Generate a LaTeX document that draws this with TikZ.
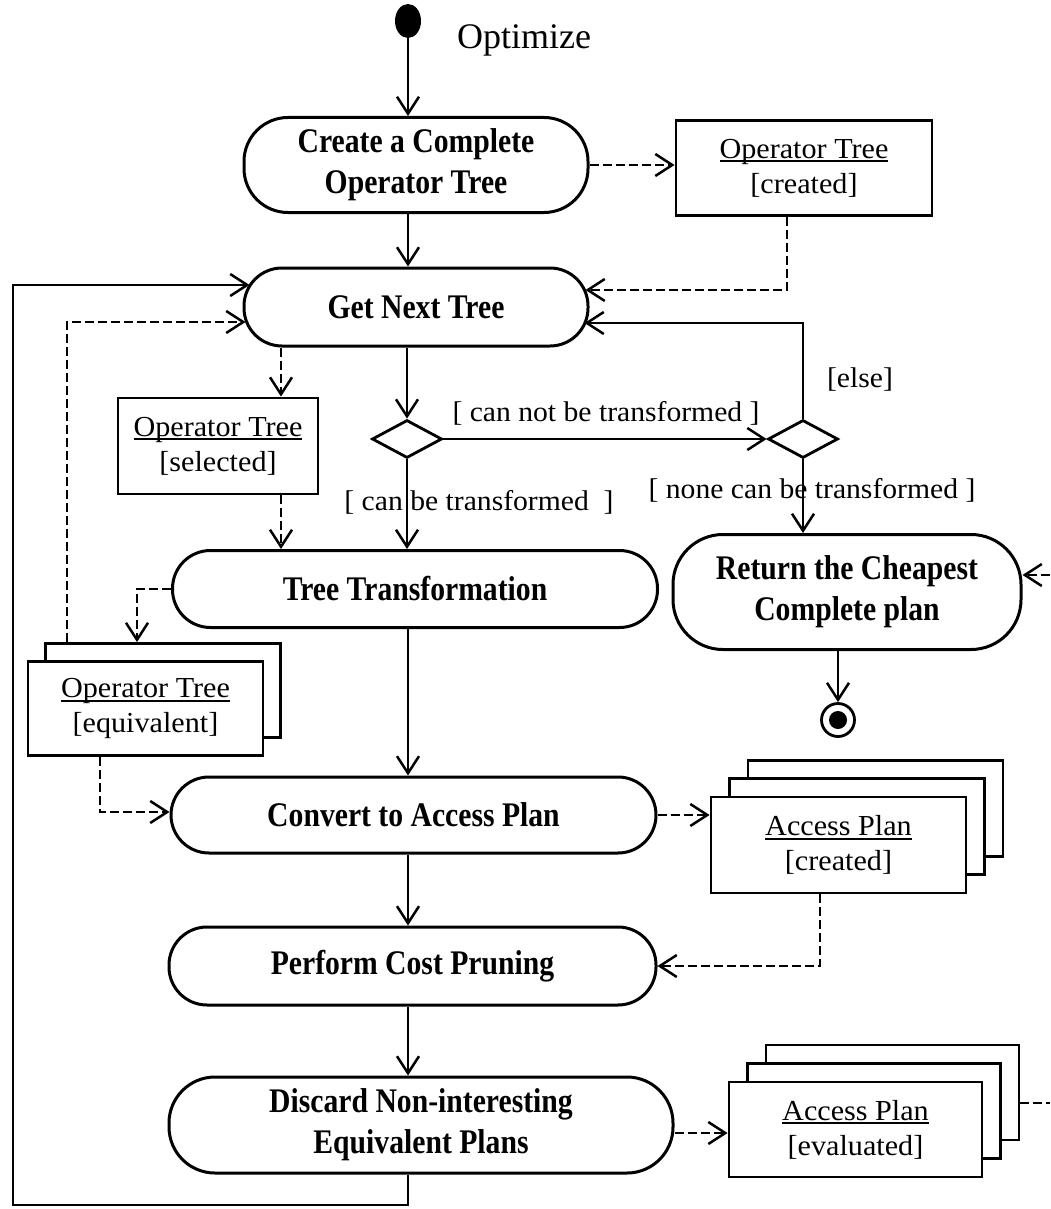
\documentclass[tikz,border=0pt]{standalone}
\usepackage{fontspec}
\setmainfont{Liberation Serif}
\newfontfamily\actfont[FakeStretch=0.86]{Liberation Serif}
\newfontfamily\lblfont[FakeStretch=1.04]{Liberation Serif}
\usetikzlibrary{arrows.meta,shapes.geometric}
% underlined object name with a heavier rule
\newcommand\objname[1]{\setbox0=\hbox{#1}\rlap{\rule[-4pt]{\wd0}{1.8pt}}\box0}
\begin{document}
\begin{tikzpicture}[x=1pt,y=-1pt,
  activity/.style={draw, line width=3pt, rounded corners=38pt, align=center,
    font=\actfont\bfseries\fontsize{34.5}{41}\selectfont, inner sep=0pt},
  objbox/.style={draw, fill=white, line width=2.8pt, align=center,
    font=\lblfont\fontsize{29}{35}\selectfont, inner sep=0pt},
  decision/.style={diamond, draw, line width=2.8pt, minimum width=70pt,
    minimum height=38pt, inner sep=0pt},
  guard/.style={font=\lblfont\fontsize{28.5}{32}\selectfont, inner sep=0pt},
  tip/.style={-{Straight Barb[length=17pt,width=22pt,line width=2.5pt]}},
  flow/.style={tip, line width=2.5pt},
  objline/.style={line width=2.5pt, dash pattern=on 9pt off 4pt},
  objflow/.style={objline, tip}
]
\fill[white] (0,0) rectangle (1050,1209);
\useasboundingbox (0,0) rectangle (1050,1209);

% initial and final states
\node[ellipse, fill, minimum width=26pt, minimum height=34pt, inner sep=0pt] (start) at (408,21) {};
\node[font=\fontsize{36}{40}\selectfont, inner sep=0pt] (title) at (524,40) {Optimize};

% activities
\node[activity, minimum width=344pt, minimum height=95pt, rounded corners=44pt] (create) at (416,165) {Create a Complete\\Operator Tree};
\node[activity, minimum width=344pt, minimum height=78pt] (next) at (416,307) {Get Next Tree};
\node[decision] (d1) at (407,439) {};
\node[decision] (d2) at (803,439) {};
\node[activity, minimum width=485pt, minimum height=77pt] (transform) at (415,589) {Tree Transformation};
\node[activity, minimum width=348pt, minimum height=115pt, rounded corners=50pt] (cheapest) at (847,592) {Return the Cheapest\\Complete plan};
\node[circle, draw, line width=2.8pt, minimum size=33pt, inner sep=0pt] (final) at (838,720) {};
\node[circle, fill, minimum size=18pt, inner sep=0pt] (finalDot) at (final) {};
\node[activity, minimum width=485pt, minimum height=76pt] (convert) at (413.5,815) {Convert to Access Plan};
\node[activity, minimum width=487pt, minimum height=78pt] (perform) at (412.5,966) {Perform Cost Pruning};
\node[activity, minimum width=504pt, minimum height=96pt, rounded corners=46pt] (discard) at (421,1125) {Discard Non-interesting\\Equivalent Plans};

% object flows
\node[objbox, minimum width=256pt, minimum height=95pt] (otCreated) at (804,168) {\objname{Operator Tree}\\{[created]}};
\node[objbox, minimum width=200pt, minimum height=96pt] (otSelected) at (218,446) {\objname{Operator Tree}\\{[selected]}};
\node[objbox, minimum width=235pt, minimum height=94pt] (otEquivB) at (163,690.5) {};
\node[objbox, minimum width=235pt, minimum height=94pt] (otEquiv) at (145.5,708.5) {\objname{Operator Tree}\\{[equivalent]}};
\node[objbox, minimum width=255pt, minimum height=96pt] (planCB) at (875.5,808.5) {};
\node[objbox, minimum width=255pt, minimum height=96pt] (planCM) at (857,826.5) {};
\node[objbox, minimum width=255pt, minimum height=96pt] (planC) at (838.5,845) {\objname{Access Plan}\\{[created]}};
\node[objbox, minimum width=253pt, minimum height=95pt] (planEB) at (892.5,1092.5) {};
\node[objbox, minimum width=253pt, minimum height=95pt] (planEM) at (874,1111) {};
\node[objbox, minimum width=253pt, minimum height=95pt] (planE) at (855.5,1129.5) {\objname{Access Plan}\\{[evaluated]}};

% guards
\node[guard] (gNot) at (606,413) {[ can not be transformed ]};
\node[guard] (gCan) at (479,502) {[ can be transformed \ ]};
\node[guard] (gNone) at (812,490) {[ none can be transformed ]};
\node[guard] (gElse) at (860,380) {[else]};

% control flow
\draw[flow] (start) -- (start |- create.north);
\draw[flow] (create.south -| start) -- (next.north -| start);
\draw[flow] (next.south -| d1) -- (d1.north);
\draw[flow] (d1.east) -- (d2.west);
\draw[flow] (d1.south) -- (d1 |- transform.north);
\draw[flow] (d2.south) -- (d2 |- cheapest.north);
\draw[flow] (d2.north) |- ([xshift=-5pt,yshift=-16pt]next.east);
\draw[flow] (cheapest.south -| final) -- (final.north);
\draw[flow] (transform.south -| start) -- (convert.north -| start);
\draw[flow] (convert.south -| start) -- (perform.north -| start);
\draw[flow] (perform.south -| start) -- (discard.north -| start);
\coordinate (loopBL) at (13,1205);
\draw[flow] (discard.south -| start) |- (loopBL) |- ([xshift=7pt,yshift=22pt]next.west);

% object flow
\draw[objflow] (create.east) -- (create.east -| otCreated.west);
\draw[objflow] ([xshift=-17pt]otCreated.south) |- ([xshift=-4pt,yshift=17pt]next.east);
\coordinate (selTop) at ([xshift=63pt]otSelected.north);
\coordinate (selBot) at ([xshift=63pt]otSelected.south);
\draw[objflow] (selTop |- next.south) -- (selTop);
\draw[objflow] (selBot) -- (selBot |- transform.north);
\draw[objflow] (transform.west) -| ([xshift=-26pt]otEquivB.north);
\draw[objflow] ([xshift=-96pt]otEquivB.north) |- ([xshift=3pt,yshift=-15pt]next.west);
\draw[objflow] ([xshift=-45.5pt]otEquiv.south) |- ([yshift=3pt]convert.west);
\draw[objflow] (convert.east) -- (convert.east -| planC.west);
\draw[objflow] ([xshift=-18.5pt]planC.south) |- (perform.east);
\draw[objflow] ([yshift=-8pt]discard.east) -- ([yshift=-8pt]discard.east -| planE.west);
\coordinate (edgeR1) at (1050,575);
\draw[objflow] (edgeR1) -- (edgeR1 -| cheapest.east);
\coordinate (edgeR2) at (1050,1103);
\draw[objline] (planEB.east |- edgeR2) -- (edgeR2);
\end{tikzpicture}
\end{document}
